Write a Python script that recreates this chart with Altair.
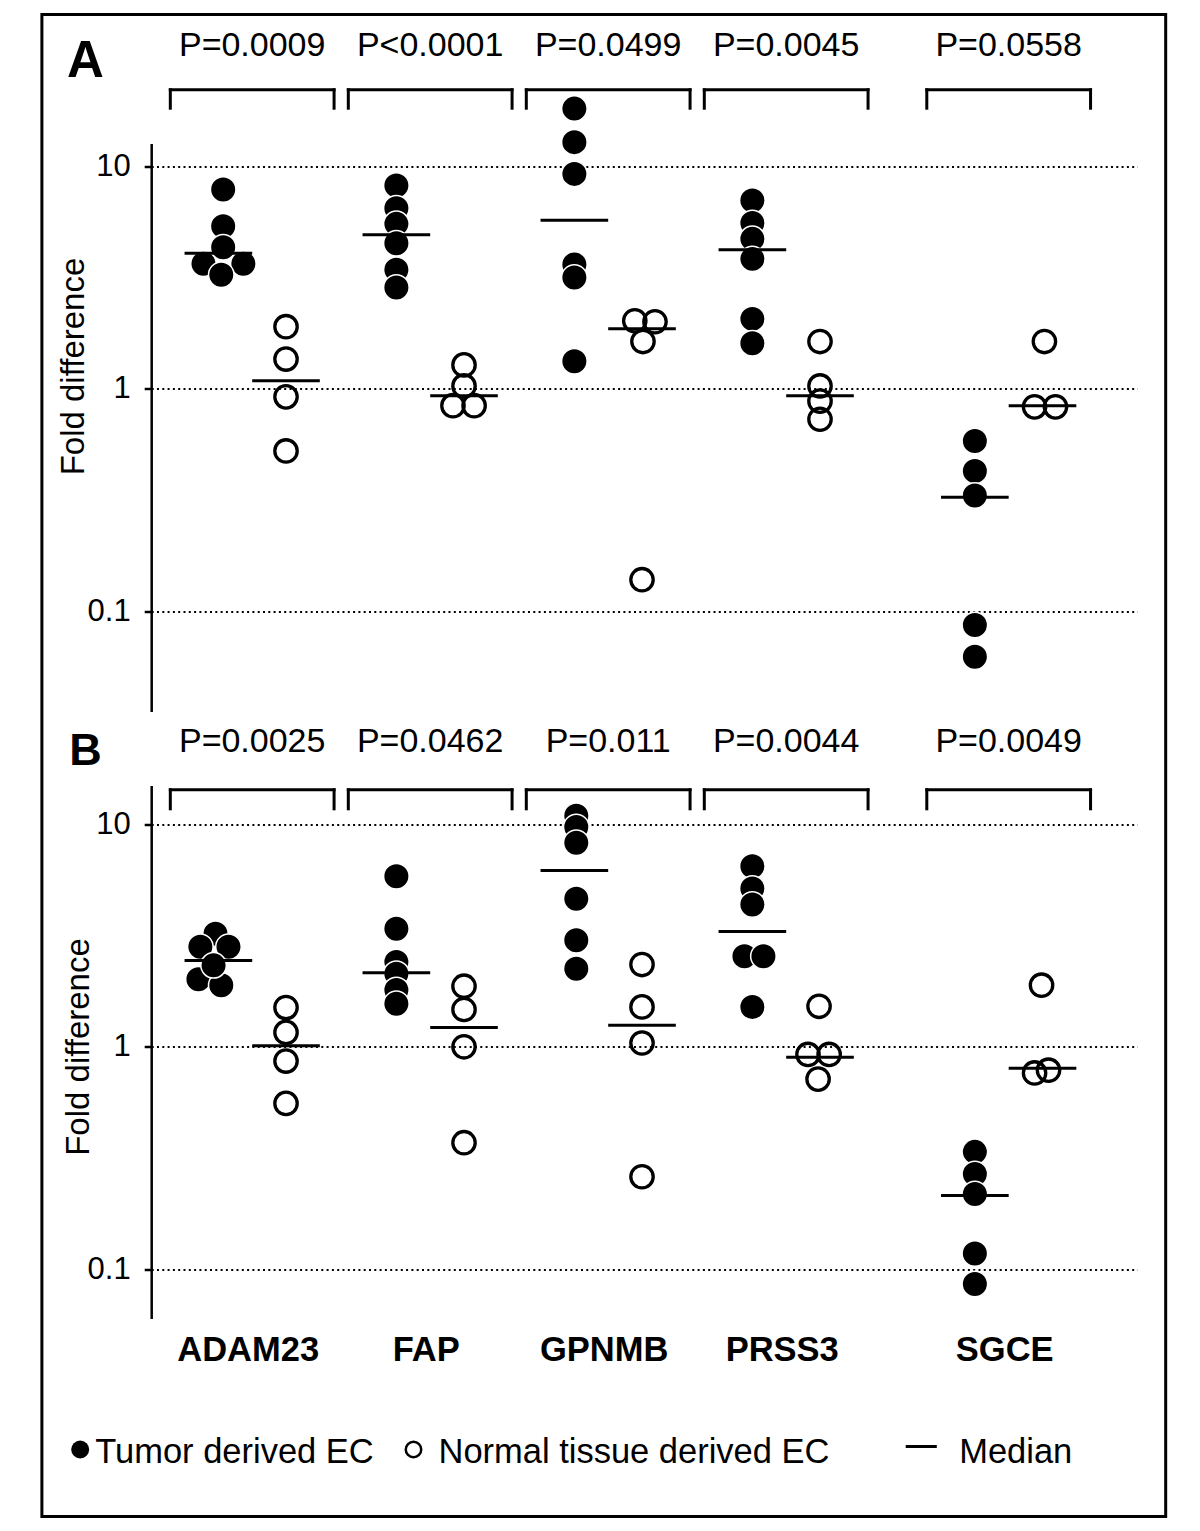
import altair as alt
import pandas as pd

# ---------------- data ----------------
genes = ["ADAM23", "FAP", "GPNMB", "PRSS3", "SGCE"]
gene_slot = [1, 2, 3, 4, 5.25]          # column slot of each gene on the x scale

a_pvalues = ["P=0.0009", "P<0.0001", "P=0.0499", "P=0.0045", "P=0.0558"]
b_pvalues = ["P=0.0025", "P=0.0462", "P=0.011", "P=0.0044", "P=0.0049"]

# Panel A
a_tumor = [
    [7.84, 5.36, 4.32, 3.64, 3.64, 3.25],
    [8.17, 6.46, 5.50, 4.50, 3.42, 2.85],
    [18.1, 12.8, 9.22, 3.61, 3.16, 1.33],
    [7.0, 5.55, 4.71, 3.83, 2.06, 1.60],
    [0.583, 0.428, 0.332, 0.087, 0.0627],
]
a_tumor_dodge = [
    [0.2, 0.2, 0.2, -0.62, 1.04, 0.12],
    [0, 0, 0, 0, 0, 0],
    [0, 0, 0, 0, 0, 0],
    [0, 0, 0, 0, 0, 0],
    [0, 0, 0, 0, 0],
]
a_normal = [
    [1.90, 1.36, 0.92, 0.526],
    [1.28, 1.03, 0.84, 0.84],
    [2.02, 2.0, 1.63, 0.139],
    [1.63, 1.03, 0.88, 0.73],
    [1.63, 0.83, 0.83],
]
a_normal_dodge = [
    [0, 0, 0, 0],
    [0, 0, -0.46, 0.42],
    [-0.3, 0.54, 0.04, 0],
    [0, 0, 0, 0],
    [0.08, -0.33, 0.54],
]
a_tumor_median = [4.06, 4.91, 5.71, 4.21, 0.326]
a_normal_median = [1.086, 0.930, 1.86, 0.930, 0.840]

# Panel B
b_tumor = [
    [3.22, 2.81, 2.81, 2.01, 1.89, 2.32],
    [5.83, 3.39, 2.40, 2.13, 1.80, 1.56],
    [10.9, 9.7, 8.24, 4.62, 3.01, 2.24],
    [6.46, 5.13, 4.35, 2.55, 2.55, 1.51],
    [0.3375, 0.2687, 0.2185, 0.118, 0.0861],
]
b_tumor_dodge = [
    [-0.12, -0.75, 0.42, -0.83, 0.12, -0.2],
    [0, 0, 0, 0, 0, 0],
    [0.08, 0.08, 0.08, 0.08, 0.08, 0.08],
    [0, 0, 0, -0.33, 0.46, 0],
    [0, 0, 0, 0, 0],
]
b_normal = [
    [1.50, 1.16, 0.863, 0.557],
    [1.87, 1.47, 1.0, 0.371],
    [2.34, 1.51, 1.04, 0.261],
    [1.52, 0.924, 0.924, 0.716],
    [1.89, 0.763, 0.785],
]
b_normal_dodge = [
    [0, 0, 0, 0],
    [0, 0, 0, 0],
    [0, 0, 0, 0],
    [-0.04, -0.5, 0.38, -0.08],
    [-0.04, -0.33, 0.25],
]
b_tumor_median = [2.44, 2.15, 6.18, 3.29, 0.215]
b_normal_median = [1.01, 1.22, 1.25, 0.898, 0.80]

legend_labels = ["Tumor derived EC", "Normal tissue derived EC", "Median"]

# ---------------- helpers ----------------
FONT = "Liberation Sans"
XDOMAIN = [0.4326, 5.972]
WIDTH = 986
GROUP_OFF = 0.19      # half distance tumor/normal column
DIAM = 0.135          # one marker diameter in x units
BR_HALF = 0.46


def points_frame(tumor, tdodge, normal, ndodge):
    rows = []
    for g, s, vals, dd in zip(genes, gene_slot, tumor, tdodge):
        for v, d in zip(vals, dd):
            rows.append(dict(gene=g, slot=s, group="Tumor", value=v, dodge=d))
    for g, s, vals, dd in zip(genes, gene_slot, normal, ndodge):
        for v, d in zip(vals, dd):
            rows.append(dict(gene=g, slot=s, group="Normal", value=v, dodge=d))
    return pd.DataFrame(rows)


def median_frame(tmed, nmed):
    rows = []
    for g, s, m in zip(genes, gene_slot, tmed):
        rows.append(dict(gene=g, slot=s, group="Tumor", value=m))
    for g, s, m in zip(genes, gene_slot, nmed):
        rows.append(dict(gene=g, slot=s, group="Normal", value=m))
    return pd.DataFrame(rows)


def make_panel(pts, meds, pvals, ydomain, height, title_x, title_y,
               letter, letter_size, letter_xy, pv_y, br_top, br_bot):
    xscale = alt.Scale(domain=XDOMAIN, nice=False, zero=False)
    yscale = alt.Scale(type="log", domain=ydomain, nice=False)
    yaxis = alt.Axis(
        values=[0.1, 1, 10], format=".1~f", grid=True, gridDash=[2, 3.3],
        gridWidth=2.2, gridColor="black", gridOpacity=1,
        domainColor="black", domainWidth=2.5, tickColor="black",
        tickWidth=2.5, tickSize=7, labelFontSize=31, labelColor="black",
        labelPadding=14, title="Fold difference", titleFontSize=33,
        titleFontWeight="normal", titleColor="black", titleX=title_x,
        titleY=title_y, titleBaseline="alphabetic",
    )
    xcalc = "datum.slot + (datum.group === 'Tumor' ? -%f : %f)" % (GROUP_OFF, GROUP_OFF)

    base = alt.Chart(pts).transform_calculate(
        xpos=xcalc + " + datum.dodge * %f" % DIAM
    )
    tumor_pts = base.transform_filter("datum.group === 'Tumor'").mark_circle(
        size=650, color="black", stroke="white", strokeWidth=1.5, opacity=1
    ).encode(
        x=alt.X("xpos:Q", scale=xscale, axis=None),
        y=alt.Y("value:Q", scale=yscale, axis=yaxis),
    )
    normal_pts = base.transform_filter("datum.group === 'Normal'").mark_point(
        shape="circle", filled=False, size=502, stroke="black",
        strokeWidth=3.3, opacity=1
    ).encode(
        x=alt.X("xpos:Q", scale=xscale, axis=None),
        y=alt.Y("value:Q", scale=yscale, axis=yaxis),
    )
    med = alt.Chart(meds).transform_calculate(
        xc=xcalc
    ).transform_calculate(
        xl="datum.xc - %f" % GROUP_OFF, xr="datum.xc + %f" % GROUP_OFF
    ).mark_rule(color="black", strokeWidth=3).encode(
        x=alt.X("xl:Q", scale=xscale, axis=None),
        x2="xr:Q",
        y=alt.Y("value:Q", scale=yscale, axis=yaxis),
    )

    br_df = pd.DataFrame({"slot": gene_slot, "pval": pvals})
    br = alt.Chart(br_df).transform_calculate(
        bl="datum.slot - %f" % BR_HALF, brr="datum.slot + %f" % BR_HALF
    )
    br_top_l = br.mark_rule(color="black", strokeWidth=3, strokeCap="square").encode(
        x=alt.X("bl:Q", scale=xscale, axis=None), x2="brr:Q", y=alt.value(br_top)
    )
    br_left = br.mark_rule(color="black", strokeWidth=3, strokeCap="square").encode(
        x=alt.X("bl:Q", scale=xscale, axis=None), y=alt.value(br_top), y2=alt.value(br_bot)
    )
    br_right = br.mark_rule(color="black", strokeWidth=3, strokeCap="square").encode(
        x=alt.X("brr:Q", scale=xscale, axis=None), y=alt.value(br_top), y2=alt.value(br_bot)
    )
    ptext = br.mark_text(fontSize=34, baseline="alphabetic", align="center",
                         color="black", font=FONT).encode(
        x=alt.X("slot:Q", scale=xscale, axis=None), y=alt.value(pv_y), text="pval:N"
    )
    letter_l = alt.Chart(pd.DataFrame({"t": [letter]})).mark_text(
        fontSize=letter_size, fontWeight="bold", align="left",
        baseline="alphabetic", color="black", font=FONT
    ).encode(x=alt.value(letter_xy[0]), y=alt.value(letter_xy[1]), text="t:N")

    layers = [tumor_pts, normal_pts, med, br_top_l, br_left, br_right, ptext, letter_l]
    return layers


pts_a = points_frame(a_tumor, a_tumor_dodge, a_normal, a_normal_dodge)
pts_b = points_frame(b_tumor, b_tumor_dodge, b_normal, b_normal_dodge)
med_a = median_frame(a_tumor_median, a_normal_median)
med_b = median_frame(b_tumor_median, b_normal_median)

HA = 568
HB = 533

layers_a = make_panel(pts_a, med_a, a_pvalues, [0.0356, 12.62], HA, -68, 222.5,
                      "A", 51, (-84.3, -67), -88, -53.7, -35.3)
# outer frame of the figure (drawn in panel A's pixel frame)
frame = alt.Chart(pd.DataFrame({"k": [0]})).mark_rect(
    fillOpacity=0, stroke="black", strokeWidth=3
).encode(x=alt.value(-109.3), x2=alt.value(1014.5), y=alt.value(-129), y2=alt.value(1373))
panel_a = alt.layer(*layers_a, frame).properties(width=WIDTH, height=HA)

layers_b = make_panel(pts_b, med_b, b_pvalues, [0.0603, 14.89], HB, -63, 261,
                      "B", 45, (-82, -20.7), -33.3, 4.3, 23.3)

xscale_b = alt.Scale(domain=XDOMAIN, nice=False, zero=False)
gene_df = pd.DataFrame({"slot": gene_slot, "gene": genes})
gene_text = alt.Chart(gene_df).mark_text(
    fontSize=34.5, fontWeight="bold", baseline="alphabetic", align="center",
    color="black", font=FONT, dx=-4
).encode(x=alt.X("slot:Q", scale=xscale_b, axis=None), y=alt.value(576), text="gene:N")

one = pd.DataFrame({"k": [0]})
leg_filled = alt.Chart(one).mark_circle(size=324, color="black", opacity=1).encode(
    x=alt.value(-71), y=alt.value(664))
leg_open = alt.Chart(one).mark_point(shape="circle", filled=False, size=240,
                                     stroke="black", strokeWidth=2.5, opacity=1).encode(
    x=alt.value(262.3), y=alt.value(664))
leg_dash = alt.Chart(one).mark_rule(color="black", strokeWidth=3).encode(
    x=alt.value(754.5), x2=alt.value(785.6), y=alt.value(661))
leg_df = pd.DataFrame({"label": legend_labels, "order": [0, 1, 2]})
leg_t1 = alt.Chart(leg_df).transform_filter("datum.order == 0").mark_text(
    fontSize=34.5, align="left", baseline="alphabetic", color="black", font=FONT
).encode(x=alt.value(-56), y=alt.value(677.7), text="label:N")
leg_t2 = alt.Chart(leg_df).transform_filter("datum.order == 1").mark_text(
    fontSize=34.5, align="left", baseline="alphabetic", color="black", font=FONT
).encode(x=alt.value(287.3), y=alt.value(677.7), text="label:N")
leg_t3 = alt.Chart(leg_df).transform_filter("datum.order == 2").mark_text(
    fontSize=34.5, align="left", baseline="alphabetic", color="black", font=FONT
).encode(x=alt.value(808), y=alt.value(677.7), text="label:N")

panel_b = alt.layer(*layers_b, gene_text, leg_filled, leg_open, leg_dash,
                    leg_t1, leg_t2, leg_t3).properties(width=WIDTH, height=HB)

chart = alt.vconcat(panel_a, panel_b, spacing=74, bounds="flush").properties(
    padding={"left": 32.2, "top": 4.5, "right": 4, "bottom": 4}
).configure(font=FONT).configure_view(strokeWidth=0)

chart.save("out.html", embed_options={"renderer": "svg", "actions": False})
